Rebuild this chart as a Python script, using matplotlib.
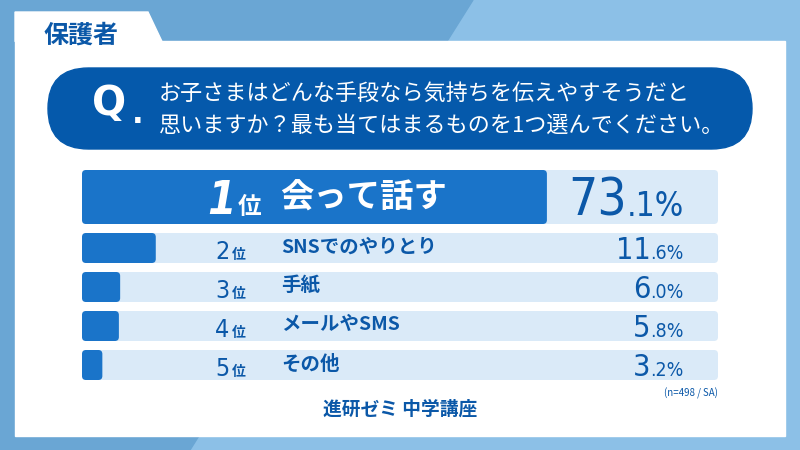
import matplotlib
matplotlib.use("Agg")
import matplotlib.pyplot as plt
from matplotlib.patches import FancyBboxPatch, Polygon, Rectangle

# chart data
ranks = [1, 2, 3, 4, 5]
labels = ["会って話す", "SNSでのやりとり", "手紙", "メールやSMS", "その他"]
values = [73.1, 11.6, 6.0, 5.8, 3.2]
tab_title = "保護者"
question = ["お子さまはどんな手段なら気持ちを伝えやすそうだと",
            "思いますか？最も当てはまるものを1つ選んでください。"]
note = "(n=498 / SA)"
brand = "進研ゼミ 中学講座"

# colours / fonts
BG_DARK = "#6aa6d4"
BG_LIGHT = "#8cc0e7"
PILL = "#0559ab"
BAR = "#1a74c9"
BAR_BG = "#daeaf8"
BLUE = "#0b58a8"
JP = ["Noto Sans CJK JP", "DejaVu Sans"]
NUM = ["DejaVu Sans"]

# row layout (pixels)
row_top = [170, 233, 272, 311, 350]
row_h = [54, 30, 30, 30, 30]
bar_x0, bar_x1 = 82, 718

fig = plt.figure(figsize=(8, 4.5), dpi=100)

# background axes in pixel units
ax = fig.add_axes([0, 0, 1, 1])
ax.set_xlim(0, 800)
ax.set_ylim(450, 0)
ax.axis("off")
ax.add_patch(Rectangle((0, 0), 800, 450, color=BG_LIGHT, zorder=0))
ax.add_patch(Polygon([(0, 0), (473, 0), (190, 450), (0, 450)], color=BG_DARK, zorder=1))
ax.add_patch(Rectangle((15, 41), 770, 395, color="white", zorder=2))
ax.add_patch(Polygon([(15, 12), (148, 12), (162, 41.5), (15, 41.5)], color="white", zorder=2))
ax.add_patch(FancyBboxPatch((48, 68), 704, 81, boxstyle="round,pad=0,rounding_size=40.5",
                            color=PILL, zorder=3))

# bar axes: x in percent
bx = fig.add_axes([bar_x0 / 800, 0, (bar_x1 - bar_x0) / 800, 1])
bx.set_xlim(0, 100)
bx.set_ylim(450, 0)
bx.axis("off")
asp = (bar_x1 - bar_x0) / 100.0
rnd = 4 / asp
for top, h, v in zip(row_top, row_h, values):
    bx.add_patch(FancyBboxPatch((0, top), 100, h, boxstyle=f"round,pad=0,rounding_size={rnd}",
                                mutation_aspect=asp, color=BAR_BG, lw=0))
    bx.add_patch(FancyBboxPatch((0, top), v, h, boxstyle=f"round,pad=0,rounding_size={rnd}",
                                mutation_aspect=asp, color=BAR, lw=0))

# text overlay
tx = fig.add_axes([0, 0, 1, 1])
tx.set_xlim(0, 800)
tx.set_ylim(450, 0)
tx.axis("off")
tx.patch.set_alpha(0)

tx.text(43, 36, tab_title, family=JP, fontsize=18, weight="bold", color=BLUE, va="center")
tx.text(92, 104, "Q", family=NUM, fontsize=29, weight="bold", color="white", va="center")
tx.text(132, 123, ".", family=NUM, fontsize=22, weight="bold", color="white", va="baseline")
tx.text(159, 94, question[0], family=JP, fontsize=15.9, color="white", va="center")
tx.text(159, 126, question[1], family=JP, fontsize=15.9, color="white", va="center")

r = fig.canvas.get_renderer()
for i, (rk, lab, v) in enumerate(zip(ranks, labels, values)):
    top, h = row_top[i], row_h[i]
    mid = top + h / 2
    whole, frac = f"{v:.1f}".split(".")
    if i == 0:
        base = top + 45
        tx.text(236, base - 1, str(rk), family=NUM, fontsize=33, weight="bold", style="oblique",
                stretch="condensed", color="white", va="baseline", ha="right")
        tx.text(238, base - 1, "位", family=JP, fontsize=17, weight="bold", color="white", va="baseline")
        tx.text(280, mid, lab, family=JP, fontsize=24, weight="bold", color="white", va="center")
        t = tx.text(684, base + 1, "." + frac + "%", family=NUM, fontsize=24, stretch="condensed",
                    color=BLUE, va="baseline", ha="right")
        w = t.get_window_extent(r).width
        tx.text(684 - w, base + 1, whole, family=NUM, fontsize=37, stretch="condensed",
                color=BLUE, va="baseline", ha="right")
    else:
        base = top + 26
        tx.text(215, base, str(rk), family=NUM, fontsize=18, stretch="condensed", color=BLUE, va="baseline")
        tx.text(232, base, "位", family=JP, fontsize=10, weight="bold", color=BLUE, va="baseline")
        tx.text(281, mid - 1, lab, family=JP, fontsize=14, weight="bold", color=BLUE, va="center")
        t = tx.text(684, base, "." + frac + "%", family=NUM, fontsize=14, stretch="condensed",
                    color=BLUE, va="baseline", ha="right")
        w = t.get_window_extent(r).width
        tx.text(684 - w, base, whole, family=NUM, fontsize=22, stretch="condensed",
                color=BLUE, va="baseline", ha="right")

tx.text(718, 393, note, family=JP, fontsize=7, color=BLUE, ha="right", va="center")
tx.text(400, 409, brand, family=JP, fontsize=13.5, weight="bold", color=BLUE, ha="center", va="center")

fig.savefig("out.png", dpi=100)
